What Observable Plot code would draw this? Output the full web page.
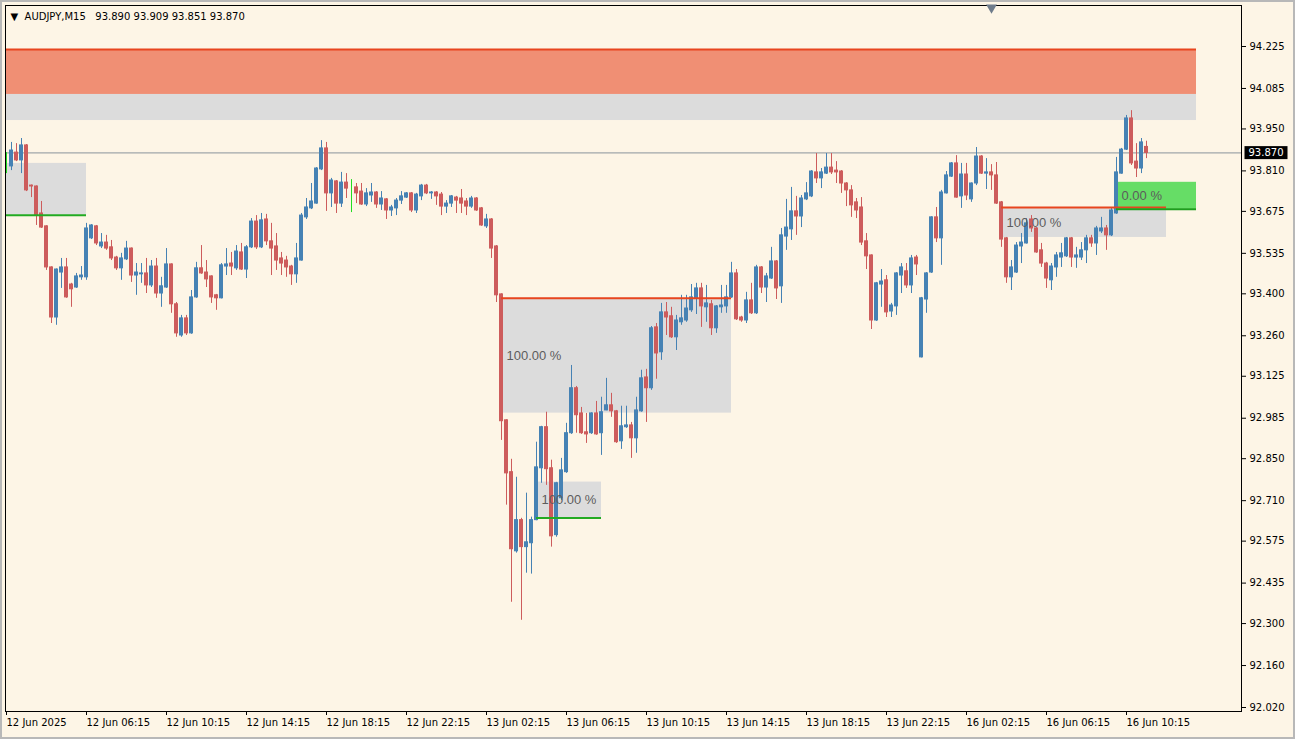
<!DOCTYPE html>
<html><head><meta charset="utf-8">
<script src="https://cdn.jsdelivr.net/npm/d3@7"></script>
<script src="https://cdn.jsdelivr.net/npm/@observablehq/plot@0.6"></script>
<style>
html,body{margin:0;padding:0;background:#FDF5E6;}
#wrap{position:relative;width:1295px;height:739px;overflow:hidden;}
#border{position:absolute;left:0;top:0;width:1291px;height:735px;border:2px solid #B8B8B8;pointer-events:none;}
</style></head>
<body><div id="wrap"><div id="border"></div></div>
<script>
// ---- DATA (AUDJPY, M15) ----
const symbolHeader = "AUDJPY,M15";
const open = [
93.835,93.825,93.871,93.845,93.895,93.761,93.758,93.668,93.625,93.488,
93.321,93.471,93.488,93.431,93.421,93.455,93.455,93.585,93.625,93.558,
93.571,93.555,93.521,93.485,93.515,93.551,93.461,93.465,93.468,93.428,
93.491,93.401,93.421,93.498,93.365,93.261,93.318,93.268,93.388,93.485,
93.471,93.458,93.395,93.385,93.491,93.501,93.485,93.538,93.481,93.555,
93.641,93.555,93.648,93.575,93.558,93.518,93.511,93.491,93.465,93.511,
93.655,93.685,93.701,93.815,93.885,93.735,93.775,93.701,93.771,93.751,
93.755,93.741,93.698,93.728,93.738,93.698,93.715,93.678,93.685,93.711,
93.721,93.735,93.678,93.725,93.761,93.735,93.738,93.731,93.691,93.701,
93.721,93.718,93.708,93.691,93.718,93.685,93.625,93.648,93.558,93.398,
92.978,92.805,92.541,92.645,92.555,92.568,92.645,92.818,92.955,92.818,
92.595,92.718,92.805,92.935,93.085,93.001,92.938,92.935,93.001,92.935,
93.011,93.028,93.008,92.908,92.955,92.961,92.918,93.008,93.121,93.085,
93.288,93.205,93.338,93.325,93.255,93.305,93.311,93.345,93.385,93.418,
93.355,93.365,93.285,93.355,93.358,93.388,93.468,93.321,93.311,93.378,
93.335,93.488,93.421,93.451,93.508,93.425,93.591,93.615,93.675,93.658,
93.715,93.725,93.805,93.785,93.801,93.821,93.811,93.808,93.768,93.745,
93.705,93.688,93.575,93.528,93.311,93.431,93.445,93.341,93.358,93.461,
93.475,93.428,93.521,93.188,93.381,93.471,93.655,93.585,93.735,93.791,
93.835,93.725,93.798,93.715,93.768,93.858,93.801,93.805,93.795,93.705,
93.585,93.455,93.471,93.558,93.568,93.648,93.618,93.545,93.501,93.445,
93.488,93.521,93.525,93.585,93.521,93.521,93.545,93.585,93.568,93.608,
93.618,93.595,93.668,93.801,93.881,93.985,93.841,93.818,93.890];
const high = [
93.871,93.905,93.901,93.918,93.898,93.763,93.760,93.708,93.627,93.490,
93.483,93.518,93.518,93.435,93.468,93.491,93.635,93.631,93.628,93.601,
93.595,93.578,93.525,93.535,93.575,93.553,93.501,93.501,93.518,93.511,
93.518,93.455,93.551,93.500,93.371,93.328,93.328,93.411,93.505,93.561,
93.511,93.460,93.398,93.501,93.551,93.538,93.561,93.568,93.561,93.651,
93.661,93.668,93.665,93.635,93.601,93.538,93.525,93.495,93.568,93.668,
93.718,93.768,93.821,93.911,93.905,93.785,93.778,93.805,93.801,93.781,
93.768,93.768,93.751,93.768,93.741,93.741,93.718,93.695,93.718,93.741,
93.738,93.738,93.735,93.765,93.765,93.741,93.741,93.738,93.711,93.728,
93.725,93.748,93.718,93.725,93.721,93.688,93.665,93.651,93.561,93.400,
92.980,92.848,92.788,92.651,92.735,92.655,92.905,92.958,93.005,92.845,
92.771,92.851,92.968,93.161,93.091,93.021,93.001,93.003,93.041,93.055,
93.118,93.068,93.011,93.025,93.025,92.971,93.055,93.145,93.148,93.291,
93.301,93.368,93.371,93.355,93.328,93.395,93.395,93.431,93.435,93.435,
93.428,93.378,93.361,93.428,93.428,93.505,93.481,93.325,93.405,93.435,
93.495,93.491,93.468,93.555,93.511,93.618,93.715,93.755,93.725,93.728,
93.771,93.811,93.868,93.818,93.868,93.868,93.841,93.811,93.771,93.761,
93.718,93.721,93.601,93.530,93.438,93.481,93.461,93.368,93.471,93.501,
93.501,93.528,93.528,93.388,93.471,93.657,93.688,93.745,93.808,93.838,
93.861,93.835,93.835,93.770,93.888,93.861,93.851,93.831,93.838,93.708,
93.588,93.511,93.571,93.601,93.651,93.661,93.621,93.568,93.505,93.501,
93.538,93.568,93.588,93.588,93.555,93.571,93.595,93.595,93.625,93.655,
93.628,93.685,93.855,93.885,93.995,94.011,93.901,93.918,93.909];
const low = [
93.801,93.811,93.841,93.801,93.741,93.721,93.628,93.618,93.478,93.301,
93.295,93.418,93.385,93.355,93.418,93.445,93.445,93.581,93.561,93.551,
93.545,93.511,93.478,93.445,93.511,93.438,93.395,93.435,93.401,93.421,
93.385,93.355,93.418,93.335,93.255,93.255,93.261,93.265,93.385,93.465,
93.421,93.368,93.345,93.383,93.461,93.461,93.478,93.478,93.451,93.551,
93.548,93.551,93.561,93.461,93.478,93.461,93.455,93.428,93.435,93.509,
93.648,93.681,93.699,93.811,93.675,93.688,93.668,93.688,93.718,93.671,
93.701,93.695,93.691,93.705,93.685,93.678,93.648,93.658,93.661,93.698,
93.718,93.671,93.668,93.711,93.731,93.715,93.695,93.661,93.668,93.688,
93.668,93.668,93.661,93.685,93.675,93.625,93.618,93.518,93.371,92.911,
92.695,92.371,92.535,92.311,92.468,92.465,92.643,92.768,92.761,92.555,
92.588,92.711,92.801,92.931,92.935,92.931,92.901,92.931,92.928,92.861,
93.010,92.988,92.901,92.881,92.951,92.851,92.868,93.005,92.971,93.078,
93.115,93.178,93.261,93.251,93.211,93.295,93.305,93.338,93.331,93.288,
93.305,93.261,93.268,93.335,93.335,93.385,93.311,93.305,93.301,93.331,
93.331,93.401,93.371,93.448,93.381,93.368,93.545,93.578,93.595,93.621,
93.711,93.721,93.768,93.751,93.798,93.798,93.768,93.735,93.691,93.655,
93.651,93.561,93.481,93.281,93.308,93.355,93.321,93.321,93.328,93.401,
93.418,93.401,93.461,93.186,93.335,93.468,93.571,93.495,93.733,93.788,
93.719,93.685,93.711,93.705,93.761,93.798,93.748,93.745,93.698,93.555,
93.435,93.411,93.468,93.501,93.566,93.605,93.535,93.488,93.418,93.411,
93.455,93.488,93.521,93.488,93.485,93.511,93.501,93.555,93.528,93.601,
93.545,93.591,93.665,93.799,93.878,93.828,93.788,93.801,93.851];
const close = [
93.835,93.878,93.845,93.895,93.745,93.758,93.661,93.621,93.488,93.321,
93.481,93.488,93.388,93.415,93.458,93.461,93.618,93.628,93.568,93.571,
93.551,93.518,93.485,93.518,93.551,93.461,93.471,93.468,93.428,93.491,
93.401,93.425,93.498,93.365,93.268,93.318,93.268,93.388,93.485,93.468,
93.448,93.388,93.385,93.495,93.498,93.491,93.541,93.481,93.555,93.641,
93.555,93.645,93.575,93.551,93.511,93.501,93.488,93.465,93.518,93.661,
93.688,93.708,93.818,93.885,93.735,93.778,93.701,93.771,93.751,93.751,
93.735,93.698,93.735,93.738,93.698,93.718,93.678,93.688,93.711,93.725,
93.735,93.678,93.731,93.761,93.735,93.738,93.725,93.691,93.701,93.725,
93.711,93.701,93.691,93.718,93.678,93.628,93.648,93.551,93.395,92.975,
92.801,92.548,92.645,92.555,92.571,92.645,92.821,92.955,92.815,92.591,
92.768,92.811,92.935,93.085,92.995,92.935,92.931,93.001,92.931,93.005,
93.028,93.008,92.905,92.958,92.961,92.918,93.011,93.118,93.085,93.285,
93.201,93.338,93.321,93.255,93.311,93.318,93.351,93.388,93.418,93.358,
93.368,93.285,93.358,93.361,93.388,93.468,93.315,93.311,93.378,93.335,
93.488,93.421,93.458,93.508,93.418,93.595,93.621,93.675,93.658,93.718,
93.735,93.808,93.785,93.805,93.821,93.805,93.805,93.768,93.745,93.695,
93.678,93.571,93.525,93.311,93.435,93.441,93.338,93.361,93.468,93.488,
93.428,93.518,93.498,93.385,93.468,93.655,93.585,93.738,93.795,93.835,
93.721,93.798,93.728,93.768,93.858,93.801,93.805,93.795,93.701,93.581,
93.455,93.488,93.561,93.571,93.635,93.618,93.538,93.501,93.451,93.491,
93.528,93.535,93.585,93.521,93.528,93.545,93.585,93.568,93.618,93.618,
93.595,93.678,93.805,93.881,93.985,93.835,93.818,93.905,93.870];

// bottom axis: bar index of each time label, and the labels
const timeTickBars = [0,16,32,48,64,80,96,112,128,144,160,176,192,208,224];
const timeLabels = ["12 Jun 2025","12 Jun 06:15","12 Jun 10:15","12 Jun 14:15","12 Jun 18:15","12 Jun 22:15",
  "13 Jun 02:15","13 Jun 06:15","13 Jun 10:15","13 Jun 14:15","13 Jun 18:15","13 Jun 22:15",
  "16 Jun 02:15","16 Jun 06:15","16 Jun 10:15"];
// right axis price labels
const priceTicks = [94.225,94.085,93.950,93.810,93.675,93.535,93.400,93.260,93.125,92.985,92.850,92.710,92.575,92.435,92.300,92.160,92.020];

// supply zone at the top (price levels) and its bar span
const zoneLine = 94.215, zoneMid = 94.065, zoneBottom = 93.978;
const zoneStartBar = -2, zoneEndBar = 238;

// smaller zones
const boxStart  = [0, 99, 106, 199, 222];
const boxEnd    = [16, 145, 119, 232, 238];
const boxTop    = [93.835, 93.385, 92.772, 93.688, 93.772];
const boxBottom = [93.662, 93.002, 92.652, 93.588, 93.682];
const boxKind   = ["support", "resistance", "support", "resistance", "active"];
const boxLabel  = ["", "100.00 %", "100.00 %", "100.00 %", "0.00 %"];
const shiftMarkerBar = 197;

// ---- BUILD ----
const bars = close.map((c, i) => ({i, open: open[i], high: high[i], low: low[i], close: c}));
const last = bars[bars.length - 1];
const candleColor = d => d.close > d.open ? "#4682B4" : d.close < d.open ? "#CD5C5C" : "#22DD22";
const boxes = boxStart.map((s, k) => ({s, e: boxEnd[k], top: boxTop[k], bottom: boxBottom[k], kind: boxKind[k], label: boxLabel[k]}));
const boxFill = {support: "#DCDCDC", resistance: "#DCDCDC", active: "#66DD66"};
const lineOf = b => b.kind === "resistance" ? b.top : b.bottom;
const lineColor = {support: "#22AA22", resistance: "#E8451E", active: "#1E9E1E"};

const W = 1295, H = 739;
const mL = 5, mR = 54, mT = 5, mB = 28;
// y domain from the axis: 94.225 at px 46, 92.020 at px 707
const pxPerUnit = (707 - 46) / (94.225 - 92.020);
const yDomain = [94.225 - (H - mB - 46) / pxPerUnit, 94.225 + (46 - mT) / pxPerUnit];
// x domain in bar units: 5 px per bar, bar 0 centered 1px right of the frame
const xDomain = [-1 / 5, (W - mR - mL - 1) / 5];

const header = "▼\u00a0\u00a0" + symbolHeader + "\u00a0\u00a0\u00a0" +
  [last.open, last.high, last.low, last.close].map(d3.format(".3f")).join(" ");

const chart = Plot.plot({
  width: W, height: H,
  marginLeft: mL, marginRight: mR, marginTop: mT, marginBottom: mB,
  style: {background: "#FDF5E6", fontFamily: "DejaVu Sans", fontSize: "10px", color: "black"},
  x: {domain: xDomain, axis: null},
  y: {domain: yDomain, axis: null},
  marks: [
    // top zone
    Plot.rect([0], {x1: zoneStartBar, x2: zoneEndBar, y1: zoneLine, y2: zoneMid, fill: "#F08F74", clip: true}),
    Plot.rect([0], {x1: zoneStartBar, x2: zoneEndBar, y1: zoneMid, y2: zoneBottom, fill: "#DCDCDC", clip: true}),
    // boxes
    Plot.rect(boxes, {x1: "s", x2: "e", y1: "top", y2: "bottom", fill: d => boxFill[d.kind], clip: true}),
    // current price line
    Plot.ruleY([last.close], {stroke: "#8A939C", strokeWidth: 1}),
    // candles
    Plot.ruleX(bars, {x: "i", y1: "low", y2: "high", stroke: candleColor, strokeWidth: 1}),
    Plot.rect(bars, {x1: d => d.i - 0.3, x2: d => d.i + 0.3, y1: "open", y2: "close",
      fill: candleColor, stroke: candleColor, strokeWidth: 1}),
    // zone lines
    Plot.ruleY([zoneLine], {x1: zoneStartBar, x2: zoneEndBar, stroke: "#E8451E", strokeWidth: 2, clip: true}),
    Plot.ruleY(boxes, {y: lineOf, x1: "s", x2: "e", stroke: d => lineColor[d.kind], strokeWidth: 2, clip: true}),
    // labels
    Plot.text(boxes.filter(b => b.label), {x: "s", y: d => (d.top + d.bottom) / 2, text: "label",
      textAnchor: "start", dx: 5, fontSize: 13, fontFamily: "Liberation Sans", fill: "#5C5C5C"}),
    // frame
    Plot.frame({stroke: "#000", strokeWidth: 1}),
    // axes
    Plot.axisY(priceTicks, {anchor: "right", tickSize: 4, tickPadding: 4, tickFormat: d3.format(".3f"),
      fontSize: 10, stroke: "#000", fill: "#000"}),
    Plot.axisX(timeTickBars, {anchor: "bottom", tickSize: 4, tickPadding: 3, textAnchor: "start",
      tickFormat: d => timeLabels[timeTickBars.indexOf(d)], fontSize: 10, stroke: "#000", fill: "#000"}),
    // header
    Plot.text([header], {frameAnchor: "top-left", dx: 5, dy: 11, textAnchor: "start", lineAnchor: "middle",
      fontSize: 10, fill: "#000"}),
    // chart shift marker
    Plot.dot([shiftMarkerBar], {x: d => d, frameAnchor: "top", symbol: "triangle", rotate: 180, r: 4,
      fill: "#6E7B8B", stroke: "none", dy: 2}),
    // current price label
    Plot.text([last.close], {y: d => d, frameAnchor: "right", dx: 7, textAnchor: "start",
      text: d => d3.format(".3f")(d), fill: "#fff", fontSize: 10, className: "price-label"})
  ]
});

document.getElementById("wrap").prepend(chart);
// black background behind the current-price label (same transform as the text)
chart.querySelectorAll(".price-label text").forEach(t => {
  const bb = t.getBBox();
  const r = document.createElementNS("http://www.w3.org/2000/svg", "rect");
  r.setAttribute("x", bb.x - 4); r.setAttribute("y", bb.y - 1);
  r.setAttribute("width", bb.width + 8); r.setAttribute("height", bb.height + 2);
  r.setAttribute("fill", "#000");
  const tr = t.getAttribute("transform");
  if (tr) r.setAttribute("transform", tr);
  t.parentNode.insertBefore(r, t);
});
</script></body></html>
